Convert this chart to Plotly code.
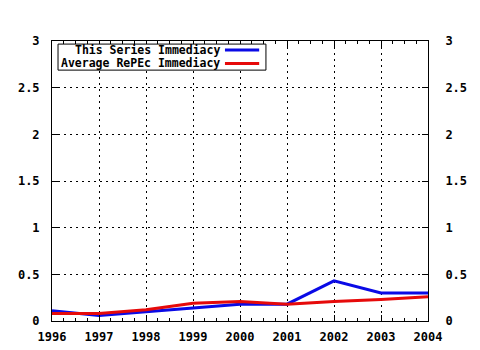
import plotly.graph_objects as go

years = [1996, 1997, 1998, 1999, 2000, 2001, 2002, 2003, 2004]
this_series = [0.11, 0.06, 0.10, 0.14, 0.18, 0.18, 0.43, 0.30, 0.30]
average_repec = [0.08, 0.08, 0.12, 0.19, 0.21, 0.18, 0.21, 0.23, 0.26]
names = ["This Series Immediacy", "Average RePEc Immediacy"]
colors = ["#0a0ae6", "#e60a0a"]
y_ticks = [0, 0.5, 1, 1.5, 2, 2.5, 3]
y_ticktext = ["0", "0.5", "1", "1.5", "2", "2.5", "3"]

FONT = "DejaVu Sans Mono"
tickfont = dict(family=FONT, size=12, color="black", weight="bold")

fig = go.Figure()
for vals, name, col in zip([this_series, average_repec], names, colors):
    fig.add_trace(go.Scatter(x=years, y=vals, mode="lines", name=name,
                             line=dict(color=col, width=3), showlegend=False))
# invisible trace to anchor mirror axes
fig.add_trace(go.Scatter(x=[years[0]], y=[0], xaxis="x2", yaxis="y2",
                         mode="markers", marker=dict(opacity=0), showlegend=False,
                         hoverinfo="skip"))

fig.update_layout(
    width=480, height=350,
    margin=dict(l=52, r=52, t=41, b=29),
    paper_bgcolor="white", plot_bgcolor="white",
    xaxis=dict(range=[1996, 2004], tickmode="array", tickvals=years,
               ticktext=[str(y) for y in years], ticks="inside", ticklen=6,
               tickcolor="black", showline=True, linecolor="black", linewidth=1,
               showgrid=True, gridcolor="black", gridwidth=1, griddash="2px,4px",
               zeroline=False, tickfont=tickfont, ticklabelstandoff=5,
               automargin=False,
               minor=dict(dtick=0.25, tick0=1996, ticks="inside", ticklen=3,
                          tickcolor="black", showgrid=False)),
    xaxis2=dict(range=[1996, 2004], overlaying="x", side="top", anchor="y",
                tickmode="array", tickvals=years, ticks="inside", ticklen=6,
                tickcolor="black", showticklabels=False, showline=True,
                linecolor="black", linewidth=1, showgrid=False, zeroline=False,
                automargin=False,
                minor=dict(dtick=0.25, tick0=1996, ticks="inside", ticklen=3,
                           tickcolor="black", showgrid=False)),
    yaxis=dict(range=[0, 3], tickmode="array", tickvals=y_ticks, ticktext=y_ticktext,
               ticks="inside", ticklen=6, tickcolor="black", showline=True,
               linecolor="black", linewidth=1, showgrid=True, gridcolor="black",
               gridwidth=1, griddash="2px,4px", zeroline=False, tickfont=tickfont,
               ticklabelstandoff=9, automargin=False),
    yaxis2=dict(range=[0, 3], overlaying="y", side="right", anchor="x",
                tickmode="array", tickvals=y_ticks, ticktext=y_ticktext,
                ticks="inside", ticklen=6, tickcolor="black", showline=True,
                linecolor="black", linewidth=1, showgrid=False, zeroline=False,
                tickfont=tickfont, ticklabelstandoff=14, automargin=False),
)

# Legend box (gnuplot style: text right-aligned, sample on right)
fig.add_shape(type="rect", xref="paper", yref="paper", x0=0.016, x1=0.569,
              y0=0.896, y1=0.989, line=dict(color="black", width=1),
              fillcolor="white", layer="above")
row_y = [0.968, 0.920]
for name, col, ry in zip(names, colors, row_y):
    fig.add_annotation(xref="paper", yref="paper", x=0.443, y=ry, text=name,
                       showarrow=False, xanchor="right", yanchor="middle",
                       xshift=2, borderpad=0,
                       font=dict(family=FONT, size=11.5, color="black", weight="bold"))
    fig.add_shape(type="line", xref="paper", yref="paper", x0=0.460, x1=0.551,
                  y0=ry, y1=ry, line=dict(color=col, width=3), layer="above")

fig.write_html("out.html")
